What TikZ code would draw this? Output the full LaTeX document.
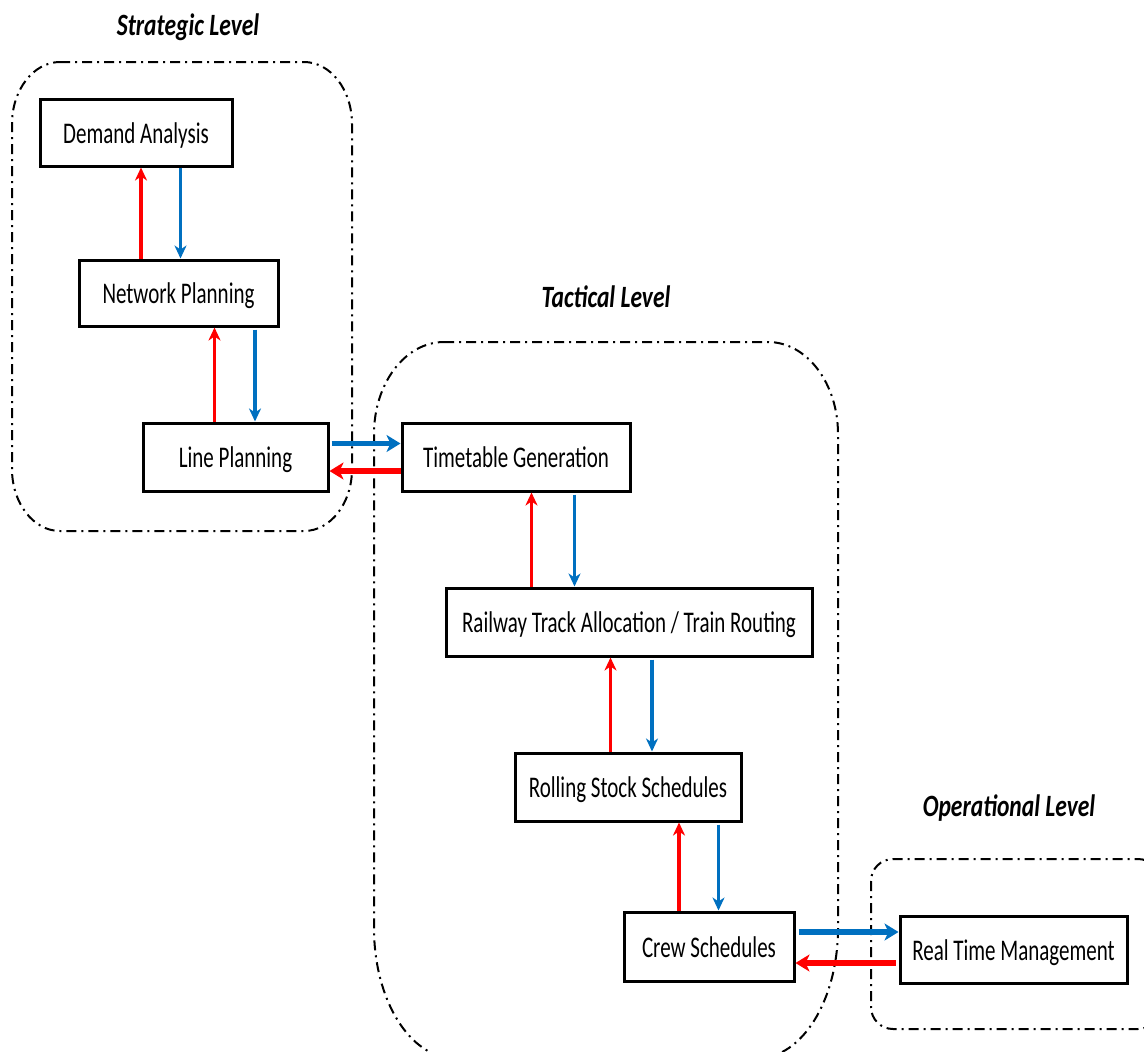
\documentclass[tikz,border=0pt]{standalone}
\usepackage{fontspec}
\setmainfont{Carlito}[FakeStretch=0.70]
\newfontfamily\leveltitlefont{Carlito}[FakeStretch=0.76]
\usetikzlibrary{arrows.meta}
\definecolor{fwdblue}{RGB}{0,112,192}
\definecolor{backred}{RGB}{255,0,0}

\begin{document}
\begin{tikzpicture}[x=1pt,y=-1pt,
  stagebox/.style={draw=black, line width=3pt, fill=white, minimum height=68pt,
    inner sep=0pt, text height=24pt, text depth=3pt, font=\fontsize{30}{36}\selectfont},
  leveltitle/.style={text height=24pt, text depth=3pt,
    font=\leveltitlefont\fontsize{31}{37}\selectfont\bfseries\itshape},
  region/.style={draw=black, line width=2pt, dash pattern=on 10pt off 5pt on 2pt off 5pt},
  fwdv/.style={draw=fwdblue, line width=3.5pt, -{Stealth[length=13pt,width=12pt,inset=4pt]}},
  backv/.style={draw=backred, line width=3.5pt, -{Stealth[length=13pt,width=12pt,inset=4pt]}},
  fwdh/.style={draw=fwdblue, line width=5.5pt, -{Stealth[length=14pt,width=17pt,inset=4pt]}},
  backh/.style={draw=backred, line width=5.5pt, -{Stealth[length=14pt,width=17pt,inset=4pt]}}]
\useasboundingbox (0,0) rectangle (1144,1052);

% planning levels
\draw[region] (60,62) -- (304,62)
  arc[start angle=-90, end angle=0, x radius=48, y radius=62] -- (352,469)
  arc[start angle=0, end angle=90, x radius=48, y radius=62] -- (60,531)
  arc[start angle=90, end angle=180, x radius=48, y radius=62] -- (12,124)
  arc[start angle=180, end angle=270, x radius=48, y radius=62] -- cycle;
\draw[region] (444,342) -- (768,342)
  arc[start angle=-90, end angle=0, x radius=70, y radius=92] -- (838,928)
  arc[start angle=0, end angle=90, x radius=80, y radius=130] -- (454,1058)
  arc[start angle=90, end angle=180, x radius=80, y radius=130] -- (374,434)
  arc[start angle=180, end angle=270, x radius=70, y radius=92] -- cycle;
\draw[region, rounded corners=22pt] (871,859) rectangle (1160,1029);

\node[leveltitle] (tstrat) at (188,25) {Strategic Level};
\node[leveltitle] (ttact) at (606,297) {Tactical Level};
\node[leveltitle] (toper) at (1009,806) {Operational Level};

% planning stages
\node[stagebox, minimum width=192pt, minimum height=67pt] (da) at (136,132.5) {Demand Analysis};
\node[stagebox, minimum width=199pt, minimum height=66pt] (nw) at (178.5,293) {Network Planning};
\node[stagebox, minimum width=185pt] (lp) at (235.5,457) {Line Planning};
\node[stagebox, minimum width=228pt] (tg) at (516,457) {Timetable Generation};
\node[stagebox, minimum width=366pt] (rt) at (629,622) {Railway Track Allocation / Train Routing};
\node[stagebox, minimum width=226pt] (rs) at (628,787) {Rolling Stock Schedules};
\node[stagebox, minimum width=170pt, minimum height=69pt] (cs) at (709,946.5) {Crew Schedules};
\node[stagebox, minimum width=227pt, minimum height=67pt] (rm) at (1013.5,949.5) {Real Time Management};

% feedback (red) and hand-over (blue) links
\draw[backv] (141,0 |- nw.north) -- (141,0 |- da.south);
\draw[fwdv] (180.5,0 |- da.south) -- (180.5,0 |- nw.north);
\draw[backv] (214.5,0 |- lp.north) -- (214.5,0 |- nw.south);
\draw[fwdv, shorten <=2pt] (255,0 |- nw.south) -- (255,0 |- lp.north);

\draw[fwdh, shorten <=2pt] (lp.east |- 0,443.5) -- (tg.west |- 0,443.5);
\draw[backh] (tg.west |- 0,471) -- (lp.east |- 0,471);

\draw[backv] (531.5,0 |- rt.north) -- (531.5,0 |- tg.south);
\draw[fwdv, shorten <=2pt] (574.5,0 |- tg.south) -- (574.5,0 |- rt.north);
\draw[backv] (610.5,0 |- rs.north) -- (610.5,0 |- rt.south);
\draw[fwdv, shorten <=2pt] (652,0 |- rt.south) -- (652,0 |- rs.north);
\draw[backv] (679,0 |- cs.north) -- (679,0 |- rs.south);
\draw[fwdv, shorten <=2pt] (718.5,0 |- rs.south) -- (718.5,0 |- cs.north);

\draw[fwdh, shorten <=3pt] (cs.east |- 0,932) -- (rm.west |- 0,932);
\draw[backh, shorten <=3pt] (rm.west |- 0,963) -- (cs.east |- 0,963);
\end{tikzpicture}
\end{document}
